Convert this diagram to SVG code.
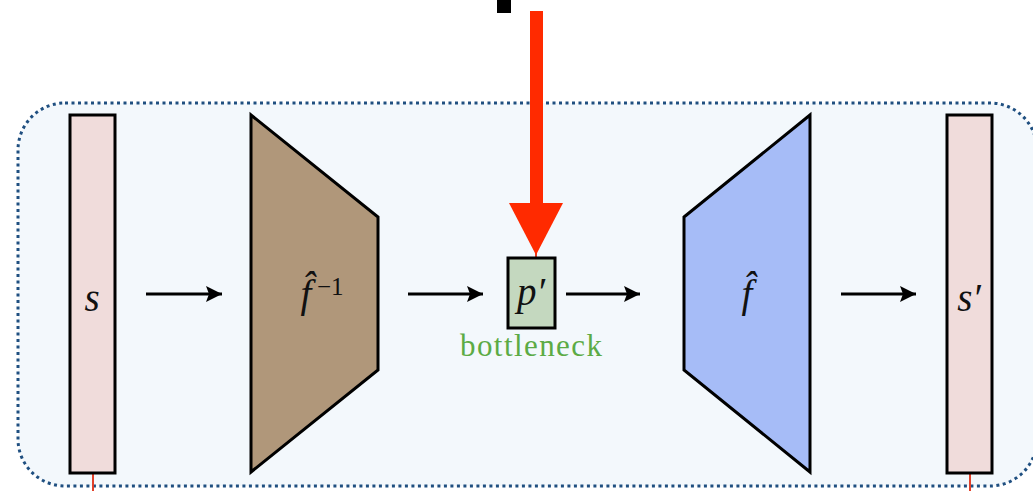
<svg xmlns="http://www.w3.org/2000/svg" width="1033" height="491" viewBox="0 0 1033 491">
<style>
.box{stroke:#000;stroke-width:3;}
.math{font-family:"Liberation Serif","DejaVu Serif",serif;font-style:italic;font-size:39px;fill:#111;text-anchor:middle;}
.sup{font-family:"Liberation Serif","DejaVu Serif",serif;font-size:25px;fill:#111;}
.conn{stroke:#000;stroke-width:3;fill:none;marker-end:url(#ah);}
.red{fill:#ff2a00;}
</style>
<defs>
<marker id="ah" markerUnits="userSpaceOnUse" markerWidth="17" markerHeight="18" refX="16" refY="9" orient="auto">
<path d="M0,1 L16,9 L0,17 L3,9 z" fill="#000"/>
</marker>
</defs>
<rect x="0" y="0" width="1033" height="491" fill="#fff"/>
<g id="container">
<rect x="18" y="103" width="1019" height="383" rx="47" ry="47" fill="#f3f8fc" stroke="#1f4f80" stroke-width="3" stroke-dasharray="3 3.5"/>
</g>
<g id="top-mark"><rect x="497" y="0" width="14" height="13" fill="#000"/></g>
<g id="node-s">
<line x1="93" y1="474" x2="93" y2="491" stroke="#e2412a" stroke-width="2"/>
<rect class="box" x="70" y="115" width="45" height="358" fill="#f0dcdb"/>
<text class="math" x="92" y="311">s</text>
</g>
<g id="node-finv">
<polygon class="box" points="251,115 378,217 378,370 251,472" fill="#b0977a"/>
<text class="math" x="306" y="307">f̂</text>
<text class="sup" x="317" y="295">−1</text>
</g>
<g id="node-bottleneck">
<line x1="536" y1="235" x2="536" y2="258" stroke="#e2412a" stroke-width="2"/>
<rect class="box" x="508" y="258" width="47" height="70" fill="#c4d8bf"/>
<text class="math" x="531" y="305">p′</text>
<text x="531" y="356" font-family="Liberation Serif, DejaVu Serif, serif" font-size="31" fill="#5cab45" text-anchor="middle" textLength="142" lengthAdjust="spacing">bottleneck</text>
</g>
<g id="node-f">
<polygon class="box" points="684,217 810,115 810,472 684,370" fill="#a6bcf7"/>
<text class="math" x="747" y="307">f̂</text>
</g>
<g id="node-s2">
<line x1="970" y1="474" x2="970" y2="491" stroke="#e2412a" stroke-width="2"/>
<rect class="box" x="947" y="115" width="45" height="358" fill="#f0dcdb"/>
<text class="math" x="969" y="311">s′</text>
</g>
<g id="red-arrow">
<rect class="red" x="530" y="11" width="13" height="194"/>
<polygon class="red" points="509,203 563,203 536,255"/>
</g>
<g id="connectors">
<line class="conn" x1="146" y1="294" x2="222" y2="294"/>
<line class="conn" x1="408" y1="294" x2="483" y2="294"/>
<line class="conn" x1="566" y1="294" x2="640" y2="294"/>
<line class="conn" x1="841" y1="294" x2="916" y2="294"/>
</g>
</svg>
